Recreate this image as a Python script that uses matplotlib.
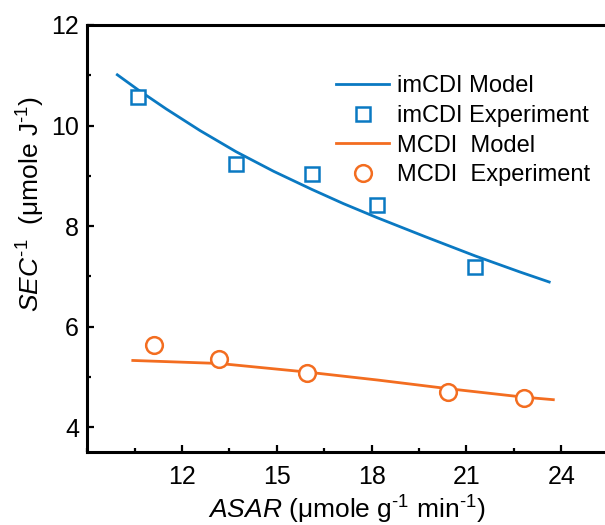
import matplotlib
matplotlib.use('Agg')
import matplotlib.pyplot as plt
from matplotlib.ticker import MultipleLocator

# ---------------------------------------------------------------------------
# data
# ---------------------------------------------------------------------------
imcdi_model_x = [9.95, 10.61, 11.5, 12.57, 13.71, 14.9, 16.11, 17.1, 18.17, 19.7, 21.27, 22.69, 23.62]
imcdi_model_y = [11.01, 10.71, 10.33, 9.90, 9.48, 9.09, 8.73, 8.45, 8.17, 7.79, 7.41, 7.09, 6.89]
imcdi_exp_x = [10.61, 13.71, 16.11, 18.17, 21.27]
imcdi_exp_y = [10.56, 9.24, 9.04, 8.43, 7.19]

mcdi_model_x = [10.44, 13.18, 15.94, 18.2, 20.41, 22.82, 23.75]
mcdi_model_y = [5.33, 5.27, 5.10, 4.94, 4.77, 4.60, 4.55]
mcdi_exp_x = [11.12, 13.18, 15.94, 20.41, 22.82]
mcdi_exp_y = [5.64, 5.35, 5.09, 4.71, 4.59]

x_ticks = [12, 15, 18, 21, 24]
y_ticks = [4, 6, 8, 10, 12]

BLUE = '#0a79c2'
ORANGE = '#f36d20'

plt.rcParams['font.family'] = ['Liberation Sans', 'DejaVu Sans']
plt.rcParams['mathtext.fontset'] = 'custom'
plt.rcParams['mathtext.rm'] = 'Liberation Sans'
plt.rcParams['mathtext.it'] = 'Liberation Sans:italic'

fig = plt.figure(figsize=(6.05, 5.25), dpi=100)
ax = fig.add_axes([0.1443, 0.1381, 0.940, 0.8143])

ax.plot(imcdi_model_x, imcdi_model_y, color=BLUE, lw=2.0, label='imCDI Model', zorder=2)
ax.plot(imcdi_exp_x, imcdi_exp_y, ls='none', marker='s', ms=10, mew=1.8,
        mec=BLUE, mfc='white', label='imCDI Experiment', zorder=3)
ax.plot(mcdi_model_x, mcdi_model_y, color=ORANGE, lw=2.0, label='MCDI  Model', zorder=2)
ax.plot(mcdi_exp_x, mcdi_exp_y, ls='none', marker='o', ms=12, mew=1.8,
        mec=ORANGE, mfc='white', label='MCDI  Experiment', zorder=3)

ax.set_xlim(9, 27)
ax.set_ylim(3.5, 12)
ax.set_xticks(x_ticks)
ax.set_yticks(y_ticks)
ax.xaxis.set_minor_locator(MultipleLocator(1.5))
ax.yaxis.set_minor_locator(MultipleLocator(1))

# axes frame: left, bottom and top only
ax.spines['right'].set_visible(False)
for side in ('left', 'bottom', 'top'):
    ax.spines[side].set_linewidth(2.2)
ax.tick_params(which='both', direction='in', top=False, right=False, width=1.6)
ax.tick_params(which='major', length=5, labelsize=18)
ax.tick_params(axis='x', which='major', pad=9)
ax.tick_params(axis='y', which='major', pad=6)
ax.tick_params(which='minor', length=3)

# short hyphen in the exponents instead of the wide math minus
ax.set_xlabel('$\\mathit{ASAR}$ (μmole g$^{\u20101}$ min$^{\u20101}$)', fontsize=19)
ax.set_ylabel('$\\mathit{SEC}^{\u20101}$  (μmole J$^{\u20101}$)', fontsize=19)
ax.xaxis.set_label_coords(0.4567, -0.097)
ax.yaxis.set_label_coords(-0.071, 0.581)

ax.legend(loc='upper left', bbox_to_anchor=(336 / 605, 1 - 75 / 525),
          bbox_transform=fig.transFigure, frameon=False, fontsize=17,
          borderpad=0, borderaxespad=0, handlelength=2.25, handletextpad=0.33,
          labelspacing=0.33, numpoints=1)

fig.savefig('out.png', dpi=100, facecolor='white')
